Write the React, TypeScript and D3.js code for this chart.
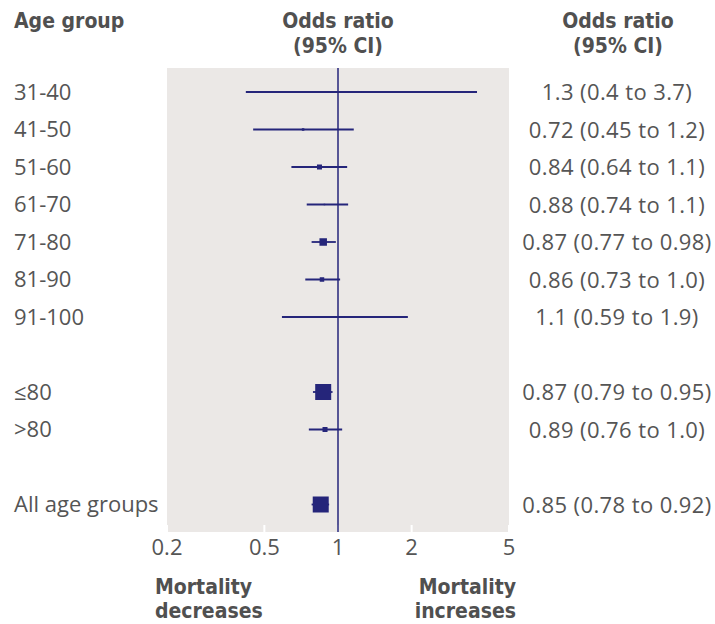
import React from "react";
import * as d3 from "d3";

const categories = ["31-40", "41-50", "51-60", "61-70", "71-80", "81-90", "91-100", "≤80", ">80", "All age groups"];
const rowOrder = ["31-40", "41-50", "51-60", "61-70", "71-80", "81-90", "91-100", "gap1", "≤80", ">80", "gap2", "All age groups"];
const oddsRatio = [1.26, 0.72, 0.84, 0.88, 0.87, 0.86, 1.07, 0.87, 0.885, 0.85];
const ciLower = [0.42, 0.45, 0.645, 0.745, 0.78, 0.735, 0.59, 0.79, 0.76, 0.78];
const ciUpper = [3.7, 1.16, 1.09, 1.1, 0.98, 1.02, 1.93, 0.95, 1.04, 0.92];
const weights = [2, 2.5, 5, 1.5, 7.5, 4.5, 2, 16, 5, 16];
const ciLabels = [
  "1.3 (0.4 to 3.7)",
  "0.72 (0.45 to 1.2)",
  "0.84 (0.64 to 1.1)",
  "0.88 (0.74 to 1.1)",
  "0.87 (0.77 to 0.98)",
  "0.86 (0.73 to 1.0)",
  "1.1 (0.59 to 1.9)",
  "0.87 (0.79 to 0.95)",
  "0.89 (0.76 to 1.0)",
  "0.85 (0.78 to 0.92)",
];
const xTicks = [0.2, 0.5, 1, 2, 5];
const xTickLabels = ["0.2", "0.5", "1", "2", "5"];

const W = 715;
const H = 624;
const panel = { left: 167, right: 509, top: 68, bottom: 532 };
const navy = "#25257a";
const textCol = "#505050";
const regCol = "#555555";
const boldFont = "'DejaVu Sans Condensed', 'Liberation Sans Narrow', 'DejaVu Sans', sans-serif";
const regFont = "'Open Sans', 'Noto Sans', sans-serif";

export default function App() {
  const x = d3.scaleLog().domain([0.2, 5]).range([panel.left, panel.right]);
  const y = d3.scalePoint<string>().domain(rowOrder).range([92, 504.5]).padding(0);
  const size = d3.scaleLinear().domain([0, 1]).range([0, 1]);

  return (
    <svg width={W} height={H} style={{ position: "absolute", left: 0, top: 0, background: "#fff" }}>
      {/* headers */}
      <g fontFamily={boldFont} fontWeight="bold" fill={textCol} fontSize={21}>
        <text x={14} y={28}>Age group</text>
        <text x={x(1)} y={28} textAnchor="middle">Odds ratio</text>
        <text x={x(1)} y={53} textAnchor="middle">(95% CI)</text>
        <text x={618} y={28} textAnchor="middle">Odds ratio</text>
        <text x={618} y={53} textAnchor="middle">(95% CI)</text>
      </g>

      {/* panel */}
      <rect x={panel.left} y={panel.top} width={panel.right - panel.left} height={panel.bottom - panel.top} fill="#ebe8e6" />

      {/* white ticks */}
      {xTicks.map((t, i) => (
        <line key={"tk" + i} x1={x(t)} x2={x(t)} y1={panel.bottom - 7} y2={panel.bottom} stroke="#fff" strokeWidth={2} />
      ))}

      {/* reference line */}
      <line x1={x(1)} x2={x(1)} y1={panel.top} y2={panel.bottom} stroke={navy} strokeWidth={1.5} />

      {/* CIs and squares */}
      {categories.map((c, i) => {
        const cy = y(c) as number;
        const s = size(weights[i]);
        return (
          <g key={c}>
            <line x1={x(ciLower[i])} x2={x(ciUpper[i])} y1={cy} y2={cy} stroke={navy} strokeWidth={1.8} />
            <rect x={x(oddsRatio[i]) - s / 2} y={cy - s / 2} width={s} height={s} fill={navy} />
          </g>
        );
      })}

      {/* row labels */}
      <g fontFamily={regFont} fill={regCol} fontSize={22}>
        {categories.map((c) => (
          <text key={"l" + c} x={14} y={(y(c) as number) + 7.5}>{c}</text>
        ))}
        {categories.map((c, i) => (
          <text key={"r" + c} x={617} y={(y(c) as number) + 8} textAnchor="middle" letterSpacing={0.4}>{ciLabels[i]}</text>
        ))}
      </g>

      {/* axis labels */}
      <g fontFamily={regFont} fill={regCol} fontSize={22}>
        {xTicks.map((t, i) => (
          <text key={"xt" + i} x={x(t)} y={555} textAnchor="middle">{xTickLabels[i]}</text>
        ))}
      </g>

      {/* direction labels */}
      <g fontFamily={boldFont} fontWeight="bold" fill={textCol} fontSize={21}>
        <text x={155} y={594}>Mortality</text>
        <text x={155} y={618}>decreases</text>
        <text x={516} y={594} textAnchor="end">Mortality</text>
        <text x={516} y={618} textAnchor="end">increases</text>
      </g>
    </svg>
  );
}
